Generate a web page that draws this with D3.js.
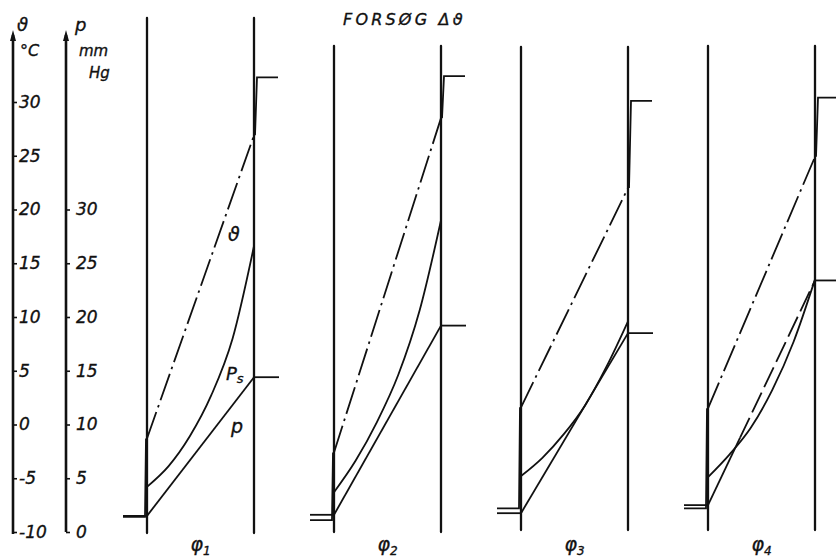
<!DOCTYPE html>
<html>
<head>
<meta charset="utf-8">
<script src="https://cdn.jsdelivr.net/npm/d3@7"></script>
<style>
  html, body { margin: 0; padding: 0; background: #fff; }
  svg text { font-family: "DejaVu Sans", sans-serif; font-style: italic; fill: #111; stroke: #111; stroke-width: 0.35; }
</style>
</head>
<body>
<svg id="chart" width="836" height="557"></svg>
<script>
// Axis ticks
const thetaTicks = [-10, -5, 0, 5, 10, 15, 20, 25, 30];
const pTicks = [0, 5, 10, 15, 20, 25, 30];

// Four test walls (φ1 … φ4)
const panels = ["1", "2", "3", "4"];

// Temperatures, °C: outdoor air, outer surface, inner surface, room air
const thetaOut     = [-8.6, -8.9, -7.8, -7.8];
const thetaSurfOut = [-1.3, -2.6, 1.6, 1.5];
const thetaSurfIn  = [26.9, 28.5, 22.0, 24.9];
const thetaIn      = [32.3, 32.4, 30.1, 30.4];

// Vapour pressure, mm Hg: outdoor and room
const pOut = [1.5, 1.6, 1.75, 2.5];
const pIn  = [14.4, 19.2, 18.5, 23.4];

// Saturation pressure Ps through the wall (mm Hg) at relative depth
const depth = [0, 0.2, 0.4, 0.6, 0.8, 1];
const ps1 = [4.2, 6.1, 8.9, 12.7, 18.0, 26.6];
const ps2 = [3.7, 6.6, 10.2, 14.6, 20.6, 29.0];
const ps3 = [5.2, 6.9, 9.1, 11.8, 15.4, 19.6];
const ps4 = [5.1, 7.2, 9.7, 13.2, 17.7, 23.5];
const psAll = [ps1, ps2, ps3, ps4];

// Portion of the p line drawn dashed (where p exceeds Ps)
const pDashFrom = [1, 1, 1, 0.3];

const svg = d3.select("#chart");

// Scales
const y = d3.scaleLinear().domain([-10, 30]).range([532, 102]);
const yP = d3.scaleLinear().domain([0, 30]).range([y(-10), y(20)]);
const panelX = d3.scaleLinear().domain([0, 3]).range([147, 708]);
const wallW = 107;
const depthX = d3.scaleLinear().domain([0, 1]).range([0, wallW]);
const wallTop = [18, 46, 47, 46];
const wallBottom = [533, 532, 530, 530];

const ink = "#111";

// Title
svg.append("text")
  .attr("x", 343).attr("y", 25)
  .attr("font-size", 16)
  .attr("letter-spacing", 3.2)
  .text("FORSØG Δϑ");

// ---- Left axes ----
function arrowAxis(x, yTop, yBot) {
  svg.append("line")
    .attr("x1", x).attr("x2", x).attr("y1", yTop + 2).attr("y2", yBot)
    .attr("stroke", ink).attr("stroke-width", 2.6);
  svg.append("path")
    .attr("d", `M${x},${yTop - 3} L${x - 3},${yTop + 8} L${x + 3},${yTop + 8} Z`)
    .attr("fill", ink);
}
const xTheta = 13, xP = 66;
arrowAxis(xTheta, 33, 534);
arrowAxis(xP, 33, 532);

const thetaAxis = d3.axisRight(y).tickValues(thetaTicks).tickSize(4).tickPadding(2)
  .tickFormat(d => String(d));
const gT = svg.append("g").attr("transform", `translate(${xTheta},0)`).call(thetaAxis);
const pAxis = d3.axisRight(yP).tickValues(pTicks).tickSize(4).tickPadding(6)
  .tickFormat(d => String(d));
const gP = svg.append("g").attr("transform", `translate(${xP},0)`).call(pAxis);
[gT, gP].forEach(g => {
  g.select(".domain").remove();
  g.selectAll(".tick line").attr("stroke", ink).attr("stroke-width", 1.6);
  g.selectAll(".tick text")
    .attr("font-family", "DejaVu Sans, sans-serif")
    .attr("font-style", "italic")
    .attr("font-size", 17)
    .attr("fill", ink);
});

// Axis titles
svg.append("text").attr("x", 17).attr("y", 31).attr("font-size", 18).text("ϑ");
svg.append("text").attr("x", 20).attr("y", 56).attr("font-size", 16).text("°C");
svg.append("text").attr("x", 75).attr("y", 31).attr("font-size", 18).text("p");
svg.append("text").attr("x", 79).attr("y", 56).attr("font-size", 15).text("mm");
svg.append("text").attr("x", 89).attr("y", 78).attr("font-size", 15).text("Hg");

// ---- Panels ----
const lineGen = d3.line().curve(d3.curveMonotoneX);

panels.forEach((name, i) => {
  const x0 = panelX(i);
  const x1 = x0 + wallW;
  const g = svg.append("g");

  // Wall faces
  [x0, x1].forEach(xx => {
    g.append("line")
      .attr("x1", xx).attr("x2", xx)
      .attr("y1", wallTop[i]).attr("y2", wallBottom[i])
      .attr("stroke", ink).attr("stroke-width", 2.3).attr("stroke-linecap", "round");
  });

  // Temperature: room air -> inner surface
  g.append("path")
    .attr("d", d3.line()([[x1 + 24, y(thetaIn[i])], [x1 + 3, y(thetaIn[i])], [x1 + 1, y(thetaSurfIn[i])]]))
    .attr("fill", "none").attr("stroke", ink).attr("stroke-width", 1.8);
  // Temperature: outdoor air -> outer surface
  g.append("path")
    .attr("d", d3.line()([[x0 - 24, y(thetaOut[i])], [x0 - 2, y(thetaOut[i])], [x0 - 1, y(thetaSurfOut[i])]]))
    .attr("fill", "none").attr("stroke", ink).attr("stroke-width", 1.8);

  // Temperature through the wall (dash-dot)
  g.append("line")
    .attr("x1", x0).attr("y1", y(thetaSurfOut[i]))
    .attr("x2", x1).attr("y2", y(thetaSurfIn[i]))
    .attr("stroke", ink).attr("stroke-width", 1.8)
    .attr("stroke-dasharray", "28,5,2.5,5");

  // Saturation pressure Ps
  g.append("path")
    .attr("d", lineGen(depth.map((d, k) => [x0 + depthX(d), yP(psAll[i][k])])))
    .attr("fill", "none").attr("stroke", ink).attr("stroke-width", 1.8);

  // Vapour pressure p, with stubs
  g.append("line")
    .attr("x1", x0 - 24).attr("x2", x0).attr("y1", yP(pOut[i])).attr("y2", yP(pOut[i]))
    .attr("stroke", ink).attr("stroke-width", 1.8);
  g.append("line")
    .attr("x1", x1).attr("x2", x1 + 25).attr("y1", yP(pIn[i])).attr("y2", yP(pIn[i]))
    .attr("stroke", ink).attr("stroke-width", 1.8);
  const pAt = f => pOut[i] + (pIn[i] - pOut[i]) * f;
  const f = pDashFrom[i];
  g.append("line")
    .attr("x1", x0).attr("y1", yP(pOut[i]))
    .attr("x2", x0 + depthX(f)).attr("y2", yP(pAt(f)))
    .attr("stroke", ink).attr("stroke-width", 1.8);
  if (f < 1) {
    g.append("line")
      .attr("x1", x0 + depthX(f)).attr("y1", yP(pAt(f)))
      .attr("x2", x1).attr("y2", yP(pIn[i]))
      .attr("stroke", ink).attr("stroke-width", 1.8)
      .attr("stroke-dasharray", "22,6");
  }

  // Panel label φn
  const t = g.append("text")
    .attr("x", x0 + wallW / 2 - 10).attr("y", 551)
    .attr("font-size", 19);
  t.append("tspan").text("φ");
  t.append("tspan").attr("dy", 4).attr("font-size", 12).text(name);
});

// Curve labels on the first wall
const lx = panelX(0);
svg.append("text").attr("x", lx + 81).attr("y", 241).attr("font-size", 19).text("ϑ");
const psT = svg.append("text").attr("x", lx + 79).attr("y", 380).attr("font-size", 18);
psT.append("tspan").text("P");
psT.append("tspan").attr("dy", 3).attr("font-size", 13).text("s");
svg.append("text").attr("x", lx + 84).attr("y", 433).attr("font-size", 19).text("p");
</script>
</body>
</html>
